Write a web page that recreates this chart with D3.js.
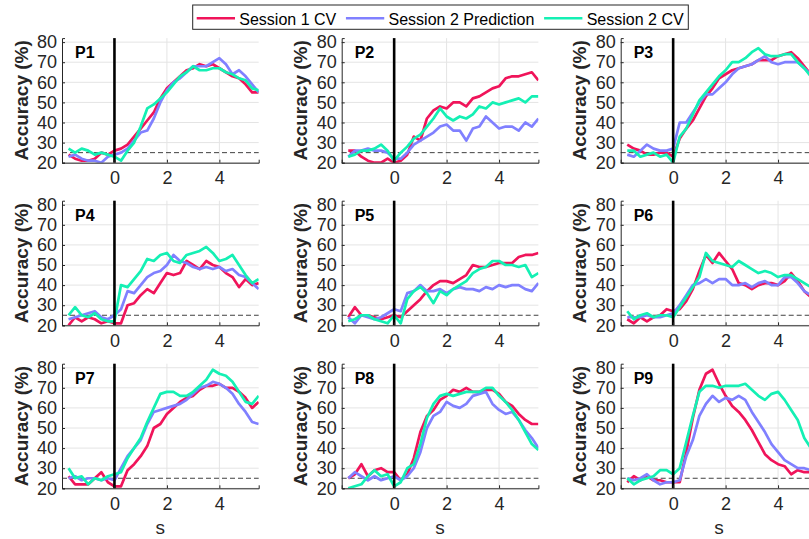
<!DOCTYPE html>
<html lang="en">
  <head>
    <meta charset="utf-8">
    <title>Accuracy over time, P1-P9</title>
    <script src="https://d3js.org/d3.v7.min.js"></script>
    <style>
      body { margin: 0; background: #fff; }
      svg { display: block; font-family: "Liberation Sans", Arial, sans-serif; }
      .tick-label { font-size: 18px; fill: #262626; }
      .ylab { font-size: 19px; font-weight: bold; fill: #262626; }
      .xlab { font-size: 19px; fill: #262626; }
      .plab { font-size: 16px; font-weight: bold; fill: #000; }
      .leg { font-size: 16px; fill: #000; }
    </style>
  </head>
  <body>
    <div id="chart"></div>
    <script>
      var w = 809;
      var h = 539;

      // time axis (s), shared by every series
      var times = [-1.75, -1.5, -1.25, -1, -0.75, -0.5, -0.25, 0, 0.25, 0.5, 0.75, 1, 1.25, 1.5, 1.75,
                   2, 2.25, 2.5, 2.75, 3, 3.25, 3.5, 3.75, 4, 4.25, 4.5, 4.75, 5, 5.25, 5.5];

      var participants = ["P1", "P2", "P3", "P4", "P5", "P6", "P7", "P8", "P9"];
      var seriesNames = ["Session 1 CV", "Session 2 Prediction", "Session 2 CV"];
      var seriesColors = ["#f0145a", "#8080ff", "#14f0b4"];

      var yTicks = [20, 30, 40, 50, 60, 70, 80];
      var xTicks = [0, 2, 4];
      var chance = 25;

      // Session 1 CV
      var s1cv = [
        [24,22,21,21,22,25,24,26,27,29,33,37,41,45,52,57,60,63,66,67,69,68,69,67,65,63,62,59,55,55],
        [26,26,23,21,20,20,22,20,21,24,33,31,42,46,48,47,50,50,48,52,53,55,57,58,62,63,63,64,65,61],
        [29,27,26,24,24,25,25,23,32,37,41,47,53,57,62,64,66,67,68,69,71,71,71,73,74,75,72,68,64,60],
        [20,24,22,24,23,21,22,21,21,30,31,35,38,36,41,46,45,46,52,50,48,52,50,49,46,44,39,43,40,41],
        [24,29,25,25,24,23,24,25,24,27,30,33,37,40,42,42,41,43,45,50,49,49,50,51,51,51,54,55,55,56],
        [23,21,24,22,24,25,28,27,28,32,38,47,55,51,56,52,48,41,40,38,40,41,41,40,42,46,42,37,34,33],
        [26,22,22,22,25,28,23,21,21,29,32,36,41,50,52,57,60,63,65,66,69,71,71,72,70,70,68,65,60,63],
        [25,27,32,26,29,30,28,28,24,27,35,48,56,59,64,66,69,68,70,68,68,69,69,67,63,61,57,54,52,52],
        [23,26,24,26,24,24,23,23,23,38,55,69,77,79,72,66,61,58,54,49,43,37,34,32,31,27,29,28,28,27]
      ];

      // Session 2 Prediction
      var s2pred = [
        [23,24,22,21,21,20,23,24,25,27,31,35,36,42,50,56,60,62,65,68,68,68,70,72,69,64,66,63,59,55],
        [23,26,26,27,26,26,25,22,22,25,29,31,33,35,38,39,36,36,31,37,38,43,40,37,38,38,36,40,38,42],
        [24,23,26,29,27,26,26,27,40,40,45,50,54,54,57,60,64,67,68,69,71,73,70,69,70,70,70,67,64,61],
        [23,24,25,26,27,24,23,25,28,37,36,40,44,46,47,50,55,52,51,49,48,49,48,49,47,48,45,44,41,38],
        [24,21,25,24,23,24,26,28,27,36,37,40,37,37,38,36,38,39,38,38,37,39,38,40,39,40,40,38,37,41],
        [24,24,24,25,24,24,25,26,30,35,40,41,43,41,43,43,40,40,41,39,41,42,40,40,44,44,41,37,35,35],
        [25,26,24,25,25,24,25,24,30,36,40,44,52,58,59,60,61,62,64,67,70,71,73,72,70,67,62,58,53,52],
        [25,28,26,24,26,24,25,26,24,26,30,38,50,56,58,63,61,60,62,66,67,68,62,59,57,58,54,49,45,40],
        [25,24,25,27,24,22,23,23,24,36,44,56,62,66,63,65,64,66,64,58,53,48,42,38,34,32,30,30,29,29]
      ];

      // Session 2 CV
      var s2cv = [
        [27,25,27,26,24,25,24,23,21,26,30,38,47,49,52,55,59,63,65,68,66,66,67,67,65,64,62,61,57,56],
        [23,24,26,26,27,29,26,21,25,28,32,34,38,42,47,43,41,43,42,44,48,47,50,49,50,51,52,50,53,53],
        [26,26,23,24,25,23,24,20,33,37,44,51,55,59,63,66,70,70,72,75,77,74,73,73,74,74,70,67,63,60],
        [25,29,25,24,26,23,22,22,40,39,43,47,53,52,55,56,52,51,55,56,57,59,56,52,53,55,50,45,41,43],
        [22,23,25,25,23,22,21,25,21,33,37,39,36,31,37,35,38,40,42,46,48,49,52,52,50,50,49,50,44,46],
        [27,23,25,26,24,25,25,24,29,34,39,44,56,52,51,50,49,52,50,48,46,47,46,44,45,45,43,41,39,38],
        [30,25,26,22,25,24,26,27,28,35,40,45,53,60,67,68,68,66,66,68,71,74,79,77,76,73,68,63,62,66],
        [20,21,22,26,29,26,27,21,23,30,32,42,55,62,66,67,66,67,68,68,68,70,70,66,63,59,54,48,42,39],
        [25,22,24,25,26,29,29,27,30,43,56,68,71,71,70,71,71,71,72,69,66,64,67,68,64,59,54,45,40,38]
      ];

      var allSeries = [s1cv, s2pred, s2cv];

      var colLeft = [62, 341.7, 620.7];
      var rowBottom = [162.7, 325.3, 488.3];
      var pw = 196.7;
      var ph = 124.6;

      var svg = d3.select("#chart")
                  .append("svg")
                  .attr("width", w)
                  .attr("height", h);

      participants.forEach(function(name, i) {
        var col = i % 3;
        var row = Math.floor(i / 3);
        var left = colLeft[col];
        var bottom = rowBottom[row];
        var top = bottom - ph;

        var x = d3.scaleLinear().domain([-2, 5.5]).range([left, left + pw]);
        var y = d3.scaleLinear().domain([20, 82]).range([bottom, top]);

        var g = svg.append("g");

        g.append("defs").append("clipPath")
          .attr("id", "clip" + i)
          .append("rect")
          .attr("x", left).attr("y", top)
          .attr("width", pw).attr("height", ph);

        // grid
        g.selectAll(".gy").data(yTicks).enter().append("line")
          .attr("x1", left).attr("x2", left + pw)
          .attr("y1", function(d) { return y(d); })
          .attr("y2", function(d) { return y(d); })
          .attr("stroke", "#e4e4e4").attr("stroke-width", 1);
        g.selectAll(".gx").data(xTicks).enter().append("line")
          .attr("x1", function(d) { return x(d); })
          .attr("x2", function(d) { return x(d); })
          .attr("y1", top).attr("y2", bottom)
          .attr("stroke", "#e4e4e4").attr("stroke-width", 1);

        // chance level
        g.append("line")
          .attr("x1", left).attr("x2", left + pw)
          .attr("y1", y(chance)).attr("y2", y(chance))
          .attr("stroke", "#404040").attr("stroke-width", 1)
          .attr("stroke-dasharray", "5,3");

        // data
        var line = d3.line()
          .x(function(d, k) { return x(times[k]); })
          .y(function(d) { return y(d); });

        allSeries.forEach(function(s, k) {
          g.append("path")
            .datum(s[i])
            .attr("clip-path", "url(#clip" + i + ")")
            .attr("d", line)
            .attr("fill", "none")
            .attr("stroke", seriesColors[k])
            .attr("stroke-width", 2.7)
            .attr("stroke-linejoin", "round");
        });

        // stimulus onset
        g.append("line")
          .attr("x1", x(0)).attr("x2", x(0))
          .attr("y1", top).attr("y2", bottom)
          .attr("stroke", "#000").attr("stroke-width", 2.6);

        // axes
        var yAxis = d3.axisLeft(y).tickValues(yTicks).tickSize(-3).tickPadding(5);
        var xAxis = d3.axisBottom(x).tickValues(xTicks).tickSize(-3).tickPadding(9);

        var ya = g.append("g").attr("transform", "translate(" + left + ",0)").call(yAxis);
        var xa = g.append("g").attr("transform", "translate(0," + bottom + ")").call(xAxis);
        [ya, xa].forEach(function(a) {
          a.attr("font-size", null).attr("font-family", null);
          a.select(".domain").attr("stroke", "#262626");
          a.selectAll(".tick line").attr("stroke", "#262626");
          a.selectAll("text").attr("class", "tick-label").attr("fill", null);
        });

        g.append("text")
          .attr("class", "ylab")
          .attr("transform", "translate(" + (left - 34.5) + "," + (top + ph / 2) + ") rotate(-90)")
          .attr("text-anchor", "middle")
          .text("Accuracy (%)");

        g.append("text")
          .attr("class", "plab")
          .attr("x", left + 13).attr("y", top + 20)
          .text(name);

        if (row === 2) {
          g.append("text")
            .attr("class", "xlab")
            .attr("x", left + pw / 2).attr("y", 534)
            .attr("text-anchor", "middle")
            .text("s");
        }
      });

      // legend
      var leg = svg.append("g");
      leg.append("rect")
        .attr("x", 192.7).attr("y", 5)
        .attr("width", 495.6).attr("height", 24.3)
        .attr("fill", "#fff").attr("stroke", "#262626").attr("stroke-width", 1);
      var lx = 196.7;
      seriesNames.forEach(function(n, k) {
        leg.append("line")
          .attr("x1", lx).attr("x2", lx + 38.3)
          .attr("y1", 18.3).attr("y2", 18.3)
          .attr("stroke", seriesColors[k]).attr("stroke-width", 2.6);
        var t = leg.append("text")
          .attr("class", "leg")
          .attr("x", lx + 42.6).attr("y", 25)
          .text(n);
        lx = lx + 42.6 + t.node().getComputedTextLength() + 9.7;
      });
    </script>
  </body>
</html>
